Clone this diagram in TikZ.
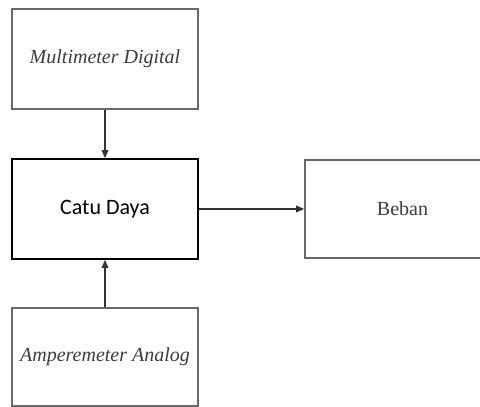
\documentclass[tikz,border=0pt]{standalone}
\usepackage{fontspec}
\setmainfont{Liberation Serif}
\newfontfamily\calibri{Carlito}
\usepackage{xcolor}
\usetikzlibrary{arrows.meta}
\definecolor{boxgray}{RGB}{105, 105, 105}
\definecolor{txtgray}{RGB}{60, 60, 60}

\begin{document}
\begin{tikzpicture}[x=0.75pt,y=0.75pt,yscale=-1,xscale=1,
  box/.style={draw=boxgray, line width=1.2pt, minimum width=139.5pt, inner sep=0pt},
  arr/.style={draw=black!80, line width=0.9pt, -{Triangle[length=6pt,width=5pt]}}]
\useasboundingbox (0,0) rectangle (480,407);

%Blocks
\node [box, minimum height=75pt, font=\fontsize{15}{18}\selectfont\itshape, text=txtgray] (multi) at (105,59) {Multimeter Digital};
\node [box, draw=black, line width=1.3pt, minimum height=75pt, font=\calibri\fontsize{16.5}{20}\selectfont] (catu) at (105,209) {Catu Daya};
\node [box, minimum width=146.25pt, minimum height=73.5pt, font=\fontsize{15}{18}\selectfont, text=txtgray] (beban) at (402.5,209) {Beban};
\node [box, minimum height=73.5pt, font=\fontsize{15}{18}\selectfont\itshape, text=txtgray] (ampere) at (105,357) {Amperemeter Analog};

%Arrows
\draw [arr] (multi) -- (catu) ;
\draw [arr] (ampere) -- (catu) ;
\draw [arr] (catu) -- (beban) ;

\end{tikzpicture}
\end{document}
